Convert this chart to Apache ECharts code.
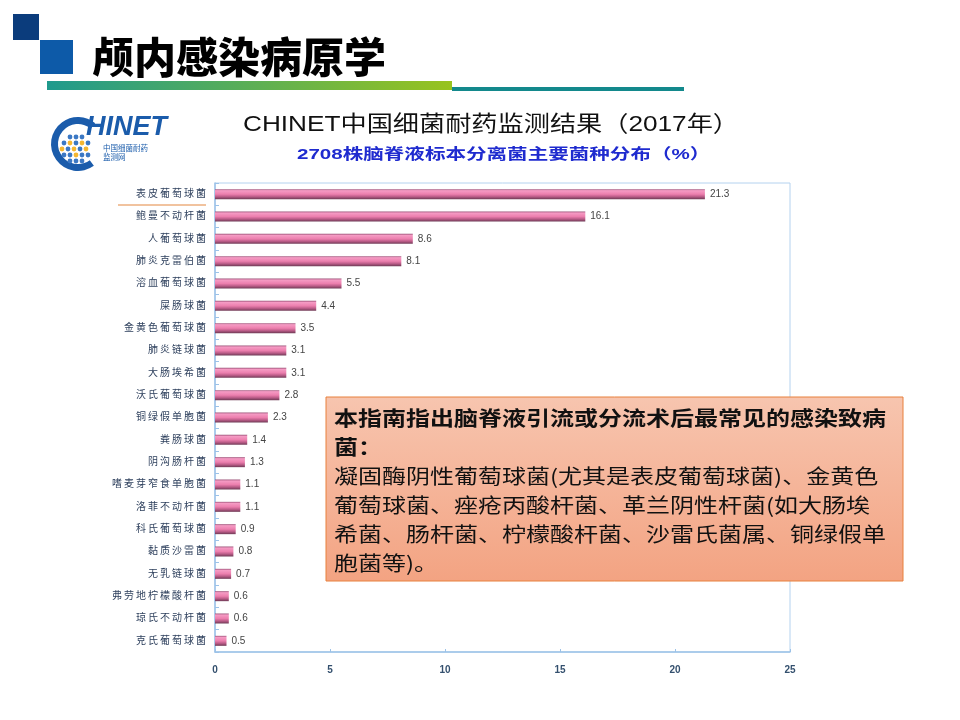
<!DOCTYPE html>
<html>
<head>
<meta charset="utf-8">
<script src="https://cdn.jsdelivr.net/npm/echarts@6/dist/echarts.min.js"></script>
<style>
  html, body { margin: 0; padding: 0; background: #fff; }
  #main { width: 960px; height: 720px; }
</style>
</head>
<body>
<div id="main"></div>
<script>
// 菌种名称（从上到下）
const categories = [
  '表皮葡萄球菌', '鲍曼不动杆菌', '人葡萄球菌', '肺炎克雷伯菌', '溶血葡萄球菌',
  '屎肠球菌', '金黄色葡萄球菌', '肺炎链球菌', '大肠埃希菌', '沃氏葡萄球菌',
  '铜绿假单胞菌', '粪肠球菌', '阴沟肠杆菌', '嗜麦芽窄食单胞菌', '洛菲不动杆菌',
  '科氏葡萄球菌', '黏质沙雷菌', '无乳链球菌', '弗劳地柠檬酸杆菌', '琼氏不动杆菌',
  '克氏葡萄球菌'
];
// 分布百分比
const percents = [
  21.3, 16.1, 8.6, 8.1, 5.5,
  4.4, 3.5, 3.1, 3.1, 2.8,
  2.3, 1.4, 1.3, 1.1, 1.1,
  0.9, 0.8, 0.7, 0.6, 0.6,
  0.5
];
const xTicks = [0, 5, 10, 15, 20, 25];

const pageTitle = '颅内感染病原学';
const subTitle = 'CHINET中国细菌耐药监测结果（2017年）';
const chartTitle = '2708株脑脊液标本分离菌主要菌种分布（%）';
const noteLines = [
  '本指南指出脑脊液引流或分流术后最常见的感染致病',
  '菌：',
  '凝固酶阴性葡萄球菌(尤其是表皮葡萄球菌)、金黄色',
  '葡萄球菌、痤疮丙酸杆菌、革兰阴性杆菌(如大肠埃',
  '希菌、肠杆菌、柠檬酸杆菌、沙雷氏菌属、铜绿假单',
  '胞菌等)。'
];

const CJK = '"Liberation Sans", "Noto Sans CJK SC", sans-serif';
const chart = echarts.init(document.getElementById('main'));

// logo 里的小圆点
const dots = [];
const dotRows = [[70, 76, 82], [64, 70, 76, 82, 88], [62, 68, 74, 80, 86], [64, 70, 76, 82, 88], [70, 76, 82]];
dotRows.forEach((row, r) => {
  row.forEach((cx, i) => {
    const yellow = (r === 1 && (i === 1 || i === 3)) || (r === 2 && (i === 0 || i === 2 || i === 4)) || (r === 3 && i === 2);
    dots.push({
      type: 'circle',
      shape: { cx: cx, cy: 137 + r * 6, r: 2.4 },
      style: { fill: yellow ? '#f5b731' : '#3b78c4' }
    });
  });
});

const option = {
  backgroundColor: '#fff',
  animation: false,
  grid: {
    left: 215,
    right: 170,
    top: 183,
    bottom: 68,
    show: true,
    borderColor: '#b4d2ef',
    borderWidth: 1
  },
  xAxis: {
    type: 'value',
    min: 0,
    max: 25,
    interval: 5,
    axisLine: { show: true, lineStyle: { color: '#9cc2e8', width: 1.5 } },
    axisTick: { show: true, inside: true, length: 3, lineStyle: { color: '#9cc2e8' } },
    splitLine: { show: false },
    axisLabel: {
      margin: 13,
      fontSize: 10,
      fontWeight: 'bold',
      color: '#34506e',
      fontFamily: CJK,
      formatter: v => xTicks.includes(v) ? String(v) : ''
    }
  },
  yAxis: {
    type: 'category',
    inverse: true,
    data: categories,
    axisLine: { show: true, lineStyle: { color: '#9cc2e8', width: 1.5 } },
    axisTick: { show: true, inside: true, length: 4, lineStyle: { color: '#9cc2e8' } },
    axisLabel: {
      margin: 9,
      fontSize: 10,
      color: '#2d3f5c',
      fontFamily: CJK,
      formatter: v => v.split('').join('\u2009')
    }
  },
  series: [{
    type: 'bar',
    data: percents,
    barWidth: 10,
    itemStyle: {
      color: new echarts.graphic.LinearGradient(0, 0, 0, 1, [
        { offset: 0, color: '#9c5278' },
        { offset: 0.15, color: '#f59bc4' },
        { offset: 0.5, color: '#ec7fae' },
        { offset: 0.75, color: '#bb5c88' },
        { offset: 1, color: '#6e3a55' }
      ])
    },
    label: {
      show: true,
      position: 'right',
      distance: 5,
      fontSize: 10,
      color: '#444',
      fontFamily: CJK
    }
  }],
  graphic: [
    // 标题方块
    { type: 'rect', shape: { x: 13, y: 14, width: 26, height: 26 }, style: { fill: '#0b3c7c' } },
    { type: 'rect', shape: { x: 40, y: 40, width: 33, height: 34 }, style: { fill: '#0d5aa8' } },
    {
      type: 'text', x: 92, y: 57,
      style: {
        text: pageTitle, fill: '#000',
        font: '900 42px "Noto Sans CJK SC", sans-serif',
        textVerticalAlign: 'middle'
      }
    },
    // 标题下的渐变线
    {
      type: 'rect', shape: { x: 47, y: 81, width: 405, height: 9 },
      style: {
        fill: new echarts.graphic.LinearGradient(0, 0, 1, 0, [
          { offset: 0, color: '#1f9a8d' },
          { offset: 1, color: '#98c31e' }
        ])
      }
    },
    { type: 'rect', shape: { x: 452, y: 87, width: 232, height: 4 }, style: { fill: '#13898c' } },
    // CHINET logo
    {
      type: 'sector',
      shape: { cx: 78, cy: 144, r0: 20, r: 27, startAngle: Math.PI * 0.3, endAngle: Math.PI * 1.72, clockwise: true },
      style: { fill: '#1b5cab' }
    },
    { type: 'group', children: dots },
    {
      type: 'text', x: 86, y: 128,
      style: {
        text: 'HINET', font: 'italic bold 27px "Liberation Sans", sans-serif',
        fill: '#1b5cab', textVerticalAlign: 'middle'
      }
    },
    {
      type: 'text', x: 103, y: 148,
      style: { text: '中国细菌耐药', font: '7.5px "Noto Sans CJK SC", sans-serif', fill: '#1b5cab', textVerticalAlign: 'middle' }
    },
    {
      type: 'text', x: 103, y: 157,
      style: { text: '监测网', font: '7.5px "Noto Sans CJK SC", sans-serif', fill: '#1b5cab', textVerticalAlign: 'middle' }
    },
    // 副标题
    {
      type: 'text', x: 243, y: 125, scaleX: 1.19,
      style: {
        text: subTitle, font: '22px "Liberation Sans", "Noto Sans CJK SC", sans-serif',
        fill: '#111', textVerticalAlign: 'middle'
      }
    },
    {
      type: 'text', x: 297, y: 155, scaleX: 1.37,
      style: {
        text: chartTitle, font: 'bold 15px "Liberation Sans", "Noto Sans CJK SC", sans-serif',
        fill: '#1f2bcf', textVerticalAlign: 'middle'
      }
    },
    // 第一个标签下的橙色线
    { type: 'line', shape: { x1: 118, y1: 205, x2: 206, y2: 205 }, style: { stroke: '#e3873e', lineWidth: 1 } },
    // 说明框
    {
      type: 'rect', shape: { x: 326, y: 397, width: 577, height: 184 },
      style: {
        fill: new echarts.graphic.LinearGradient(0, 0, 0, 1, [
          { offset: 0, color: '#f7c5af' },
          { offset: 1, color: '#f3a382' }
        ]),
        stroke: '#e8803c', lineWidth: 1
      },
      z: 10
    },
    {
      type: 'text', x: 334, y: 404, scaleX: 1.2, z: 11,
      style: {
        text: noteLines.map((s, i) => (i < 2 ? '{b|' : '{n|') + s + '}').join('\n'),
        fill: '#111',
        rich: {
          b: { fontSize: 20, fontWeight: 'bold', lineHeight: 29, fontFamily: '"Noto Sans CJK SC", sans-serif', fill: '#111' },
          n: { fontSize: 20, lineHeight: 29, fontFamily: '"Noto Sans CJK SC", sans-serif', fill: '#111' }
        }
      }
    }
  ]
};

chart.setOption(option);
</script>
</body>
</html>
